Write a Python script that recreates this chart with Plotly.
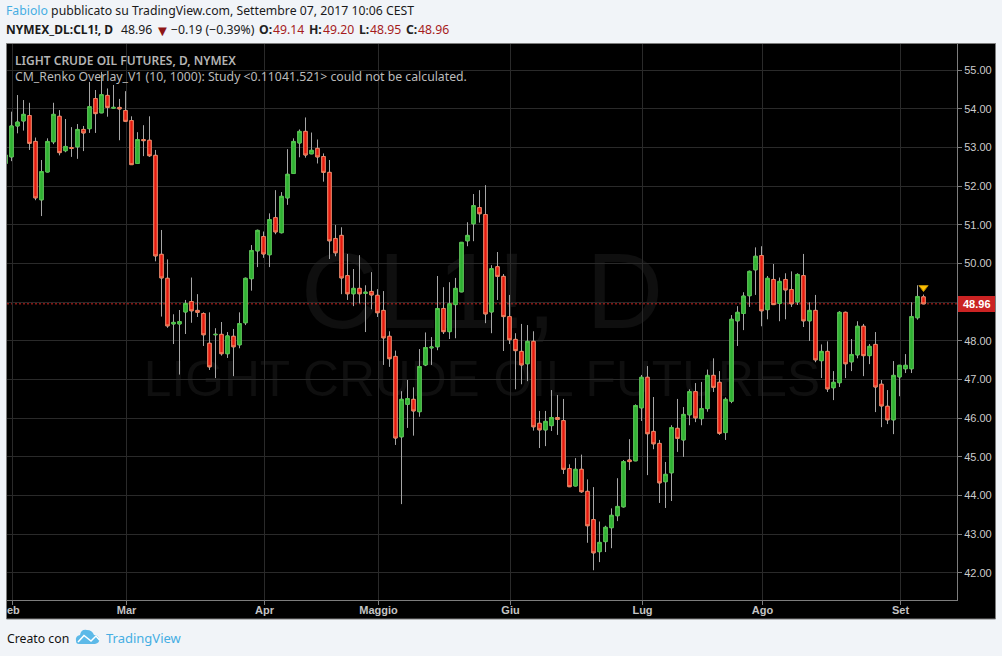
import plotly.graph_objects as go

opens = [52.59,52.76,53.56,53.69,53.83,53.16,51.65,52.37,53.15,53.81,
52.92,53.00,53.02,53.47,53.49,54.27,53.90,54.35,54.02,54.04,
53.96,53.70,52.59,53.21,53.19,52.80,50.24,49.62,48.44,48.44,
48.75,49.02,48.79,48.71,47.94,48.16,48.17,47.67,48.12,47.90,
48.47,49.61,50.33,50.70,50.23,51.19,50.80,51.70,52.33,53.12,
53.42,52.84,52.98,52.77,52.36,50.65,50.73,49.69,49.22,49.36,
49.23,49.28,49.18,48.79,48.12,47.60,45.52,46.36,46.49,46.17,
47.38,47.82,47.85,48.84,48.24,48.94,49.27,50.59,51.03,51.45,
51.27,48.75,49.92,49.67,48.63,48.04,47.73,47.41,47.99,45.87,
45.70,45.81,46.02,45.94,44.70,44.25,44.68,44.11,43.38,42.55,
42.81,43.17,43.48,43.71,44.92,44.90,46.27,47.06,45.66,45.35,
44.36,44.59,45.74,45.44,46.09,46.69,45.99,46.25,47.11,46.93,
45.63,46.44,48.52,48.71,49.17,49.84,50.21,48.81,49.59,48.97,
49.59,49.33,49.01,49.69,48.52,48.79,47.49,47.73,46.79,46.92,
48.74,47.46,47.64,48.38,47.62,47.91,46.88,46.31,45.96,47.07,
47.28,47.28,48.60,49.14]
highs = [52.90,53.93,54.36,54.23,54.16,53.26,52.68,53.24,54.16,53.97,
53.74,53.53,53.61,53.56,54.70,54.49,54.96,54.53,54.62,54.26,
54.46,53.81,53.40,53.58,53.81,52.94,50.87,50.11,48.69,48.80,
49.06,49.64,49.21,48.74,48.74,48.33,48.49,48.23,48.31,48.74,
49.64,50.48,50.88,50.83,51.30,51.90,51.85,52.96,53.24,53.47,
53.78,53.39,53.21,52.85,52.68,51.00,50.94,50.25,49.86,50.22,
49.44,49.78,49.34,49.29,48.25,47.75,46.70,46.99,46.80,47.79,
48.22,48.10,49.68,49.39,49.52,49.63,50.56,51.07,51.80,51.90,
52.03,49.96,50.30,49.73,49.19,48.20,48.44,48.41,48.25,46.19,
46.19,46.73,46.60,46.50,44.81,44.97,45.06,44.42,44.22,43.33,
43.22,43.67,44.45,44.92,45.46,46.36,47.12,47.35,46.55,45.44,
44.87,45.82,46.50,46.29,46.75,46.91,46.94,47.26,47.55,47.22,
46.54,48.67,48.90,49.26,49.82,50.42,50.45,49.68,49.99,49.64,
49.75,49.80,49.75,50.25,49.00,49.19,47.91,47.99,47.22,48.77,
48.76,48.05,48.51,48.44,47.92,48.23,46.99,46.73,47.48,47.38,
47.66,49.00,49.44,49.20]
lows = [52.50,52.65,53.37,53.44,52.94,51.64,51.23,52.36,53.09,52.80,
52.88,52.76,52.71,52.91,53.38,53.38,53.89,53.80,54.00,53.19,
53.66,52.55,52.58,52.78,52.76,50.06,48.63,48.34,47.92,47.13,
48.18,48.47,48.62,47.87,47.25,47.04,47.62,47.56,47.09,47.81,
48.41,49.30,49.91,50.15,49.91,50.76,50.78,51.52,52.32,52.75,
52.74,52.83,52.59,52.12,50.12,50.19,49.21,49.06,48.90,48.97,
48.23,48.82,48.62,47.38,47.33,45.31,43.78,45.75,45.55,46.04,
47.35,47.38,47.76,48.18,48.05,48.07,49.26,50.45,50.58,51.06,
48.46,48.20,49.06,47.74,47.92,46.75,46.88,46.96,45.68,45.23,
45.28,45.67,45.57,44.56,44.22,44.24,44.07,42.78,42.07,42.28,
42.54,42.64,43.34,43.69,44.66,44.89,45.93,44.53,45.20,43.81,
43.68,43.86,45.13,45.00,45.82,45.90,45.82,46.17,46.68,45.57,
45.44,46.39,47.87,48.28,48.88,49.19,48.38,48.56,48.93,48.51,
48.56,48.88,48.93,48.36,48.00,47.45,47.04,46.68,46.47,46.81,
47.04,47.22,47.55,47.09,47.40,46.16,45.77,45.85,45.59,46.57,
47.17,47.17,48.55,48.95]
closes = [52.81,53.56,53.66,53.86,53.11,51.70,52.38,53.16,53.86,52.87,
53.03,52.98,53.47,53.38,54.06,53.88,54.37,54.04,54.04,54.00,
53.68,52.56,53.21,53.18,52.79,50.20,49.63,48.39,48.48,48.50,
48.97,48.78,48.74,48.16,47.33,48.17,47.67,48.13,47.85,48.45,
49.62,50.34,50.86,50.25,51.14,50.82,51.74,52.31,53.16,53.42,
52.81,52.93,52.76,52.36,50.59,50.28,49.63,49.22,49.36,49.22,
49.26,49.19,48.73,48.08,47.54,45.49,46.49,46.51,46.19,47.34,
47.83,47.84,48.84,48.24,48.96,49.36,50.55,50.73,51.50,51.29,
48.70,49.87,49.67,48.63,48.03,47.75,47.38,47.99,45.78,45.70,
45.92,46.02,45.97,44.68,44.23,44.68,44.10,43.22,42.52,42.79,
43.18,43.49,43.72,44.88,44.88,46.33,47.06,45.60,45.34,44.33,
44.55,45.76,45.48,46.10,46.69,46.01,46.25,47.11,46.80,45.61,
46.49,48.56,48.74,49.16,49.80,50.19,48.78,49.62,48.94,49.54,
49.32,48.96,49.72,48.52,48.79,47.51,47.73,46.76,46.93,48.74,
47.41,47.65,48.38,47.62,47.86,46.81,46.32,45.96,47.11,47.37,
47.37,48.63,49.15,48.96]
sessions = list(range(len(closes)))

month_positions = [1.1667, 20.1667, 43.1667, 62.1667, 84.1667, 106.1667, 126.1667, 149.1667]
month_labels = ["", "Mar", "Apr", "Maggio", "Giu", "Lug", "Ago", "Set"]
price_ticks = list(range(42, 56))
price_labels = ["42.00","43.00","44.00","45.00","46.00","47.00","48.00","","50.00","51.00","52.00","53.00","54.00","55.00"]
last_price = 48.96
flag_session = [153]
flag_price = [49.38]

BG = "#f1f4f8"
W, H = 1002, 656
L, R, T, B = 7, 957, 44, 600
def px(x): return (x - L) / (R - L)
def py(y): return (B - y) / (B - T)

def note(x, y, text, size=12.25, color="#222222", font="Noto Sans", anchor="left", weight=None):
    f = dict(family=font, size=size, color=color)
    if weight: f["weight"] = weight
    return dict(xref="paper", yref="paper", x=px(x), y=py(y), text=text, showarrow=False,
                xanchor=anchor, yanchor="middle", borderpad=0, borderwidth=0, font=f)

fig = go.Figure()
# wicks
fig.add_trace(go.Candlestick(
    x=sessions, open=opens, high=highs, low=lows, close=closes, whiskerwidth=0,
    increasing=dict(line=dict(color="#a6a6a6", width=1), fillcolor="#a6a6a6"),
    decreasing=dict(line=dict(color="#a6a6a6", width=1), fillcolor="#a6a6a6"),
    hoverinfo="skip", showlegend=False))
# bodies
fig.add_trace(go.Candlestick(
    x=sessions, open=opens, close=closes,
    high=[max(a, b) for a, b in zip(opens, closes)],
    low=[min(a, b) for a, b in zip(opens, closes)], whiskerwidth=0,
    increasing=dict(line=dict(color="#4ec848", width=1), fillcolor="#2fb033"),
    decreasing=dict(line=dict(color="#f2805c", width=1), fillcolor="#e6180e"),
    hoverinfo="skip", showlegend=False))
fig.add_trace(go.Scatter(
    x=flag_session, y=flag_price, mode="markers", hoverinfo="skip", showlegend=False,
    marker=dict(symbol="triangle-down", size=8, color="#ffc000", line=dict(color="#b88a00", width=1))))

shapes = [
    dict(type="rect", xref="paper", yref="paper", layer="below", x0=px(6.5), x1=px(995.5), y0=py(619), y1=py(43.5),
         fillcolor="#000000", line=dict(color="#7d7d7d", width=1)),
    dict(type="rect", xref="paper", yref="paper", layer="below", x0=px(7), x1=px(957), y0=py(226), y1=py(336),
         fillcolor="rgba(0,0,0,0)", line=dict(width=0),
         label=dict(text="CL1!, D", textposition="middle center",
                    font=dict(family="Liberation Sans", size=107, color="#0f0f0f"))),
    dict(type="rect", xref="paper", yref="paper", layer="below", x0=px(7), x1=px(957), y0=py(347), y1=py(402),
         fillcolor="rgba(0,0,0,0)", line=dict(width=0),
         label=dict(text="LIGHT CRUDE OIL FUTURES", textposition="middle center",
                    font=dict(family="Liberation Sans", size=49.7, color="#0f0f0f"))),
    dict(type="line", xref="x", yref="y", layer="below", x0=0.25, x1=158.583, y0=last_price, y1=last_price,
         line=dict(color="#c8231f", width=1, dash="2px,2px")),
    dict(type="rect", xref="paper", yref="paper", x0=px(958), x1=px(995), y0=py(312), y1=py(296),
         fillcolor="#cb2323", line=dict(width=0)),
    # logo cloud
    dict(type="path", xref="paper", yref="paper",
         path=("M {} {} L {} {} Q {} {} {} {} Q {} {} {} {} Q {} {} {} {} Q {} {} {} {} Q {} {} {} {} Q {} {} {} {} Z").format(
             px(79), py(644), px(95), py(644), px(100), py(643), px(99), py(639), px(98), py(635), px(94), py(635),
             px(92), py(630), px(87), py(630), px(81), py(629), px(80), py(635), px(75), py(636), px(76), py(641),
             px(76), py(644), px(79), py(644)),
         fillcolor="#5cb9e8", line=dict(width=0)),
    dict(type="path", xref="paper", yref="paper",
         path="M {} {} L {} {} L {} {} L {} {} L {} {}".format(
             px(78), py(642), px(84), py(635.5), px(91), py(641), px(96), py(636), px(99.5), py(640)),
         line=dict(color="#ffffff", width=1.5)),
]

anns = [
    note(6, 11, '<span style="color:#45aee3">Fabiolo</span> pubblicato su TradingView.com, Settembre 07, 2017 10:06 CEST', color="#1a1a1a"),
    note(6, 30, "<b>NYMEX_DL:CL1!, D</b>", size=12, color="#1a1a1a"),
    note(121, 30, "48.96", color="#1a1a1a"),
    note(162, 30, "▼", size=15, color="#8e1616", anchor="center"),
    note(171, 30, "−0.19 (−0.39%)", color="#1a1a1a"),
    note(259, 30, "<b>O:</b>"), note(273, 30, "49.14", color="#a61c1c"),
    note(309, 30, "<b>H:</b>"), note(323, 30, "49.20", color="#a61c1c"),
    note(359, 30, "<b>L:</b>"), note(370, 30, "48.95", color="#a61c1c"),
    note(406, 30, "<b>C:</b>"), note(418, 30, "48.96", color="#a61c1c"),
    note(15, 60, "LIGHT CRUDE OIL FUTURES, D, NYMEX", size=12, color="#b4b4b4", weight=600),
    note(15, 77, "CM_Renko Overlay_V1 (10, 1000): Study &lt;0.11041.521&gt; could not be calculated.", color="#bbbbbb"),
    note(7, 610, "<b>eb</b>", size=11, color="#c4c4c4", font="Liberation Sans"),
    note(976.5, 304, "<b>48.96</b>", size=11, color="#ffffff", font="Liberation Sans", anchor="center"),
    note(7, 638, "Creato con", color="#111111"),
    note(106, 638, "TradingView", size=13, color="#45aee3"),
]

fig.update_layout(
    width=W, height=H, autosize=False,
    margin=dict(l=L, r=W - R, t=T, b=H - B, pad=0),
    paper_bgcolor=BG, plot_bgcolor="#000000",
    boxmode="overlay", boxgap=0.2,
    showlegend=False, shapes=shapes, annotations=anns,
    xaxis=dict(range=[0.25, 158.5833], rangeslider=dict(visible=False), tickmode="array",
               tickvals=month_positions, ticktext=month_labels, showgrid=True, gridcolor="#2a2a2a", gridwidth=1,
               zeroline=False, showline=True, linecolor="#7d7d7d", linewidth=1,
               ticks="outside", ticklen=4, tickcolor="#7d7d7d", ticklabelstandoff=-4,
               tickfont=dict(family="Liberation Sans", size=11, color="#c4c4c4", weight="bold")),
    yaxis=dict(range=[41.30, 55.68], side="right", tickmode="array", tickvals=price_ticks,
               ticktext=price_labels, showgrid=True, gridcolor="#2a2a2a", gridwidth=1,
               zeroline=False, showline=True, linecolor="#7d7d7d", linewidth=1,
               ticks="outside", ticklen=4, tickcolor="#7d7d7d",
               tickfont=dict(family="Liberation Sans", size=11, color="#cccccc")),
)

fig.write_html("out.html", config=dict(displayModeBar=False),
               post_script="document.body.style.margin='0';document.body.style.overflow='hidden';document.body.style.background='%s';" % BG)
